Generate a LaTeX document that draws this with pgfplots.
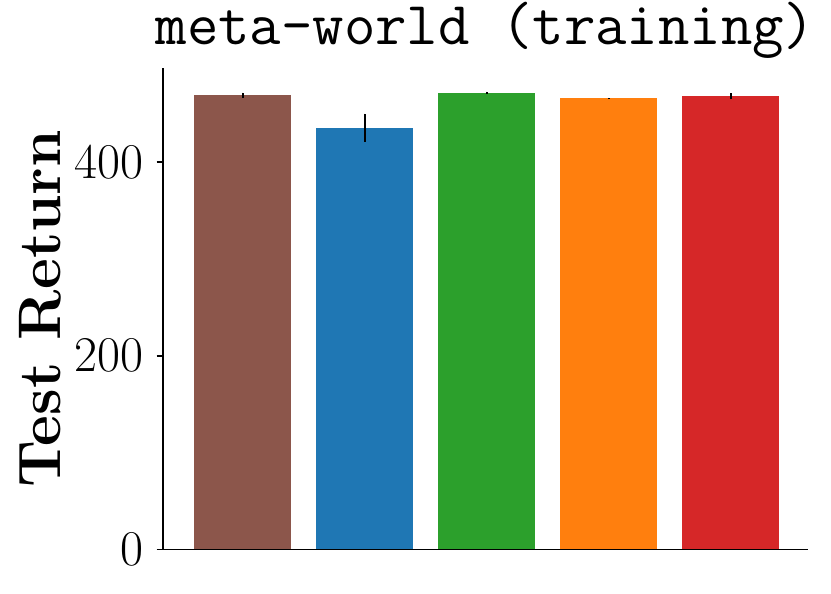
\documentclass[border=0pt]{standalone}
\usepackage{fontspec}
\usepackage{pgfplots}
\pgfplotsset{compat=1.18}

\definecolor{tabbrown}{HTML}{8C564B}
\definecolor{tabblue}{HTML}{1F77B4}
\definecolor{tabgreen}{HTML}{2CA02C}
\definecolor{taborange}{HTML}{FF7F0E}
\definecolor{tabred}{HTML}{D62728}

\begin{document}
\begin{tikzpicture}
\begin{axis}[
    name=ax,
    scale only axis,
    width=322.5pt,
    height=240.75pt,
    ybar,
    bar width=0.8,
    xmin=-0.652, xmax=4.635,
    ymin=0, ymax=497,
    ytick={0,200,400},
    xtick=\empty,
    axis x line*=bottom,
    axis y line*=left,
    axis line style={line width=0.9pt, -},
    tick align=outside,
    major tick length=3.2pt,
    tick style={line width=0.9pt, black},
    /pgf/number format/assume math mode=true,
    ticklabel style={font=\fontsize{25}{30}\selectfont},
    yticklabel style={inner sep=0pt, anchor=east, xshift=-6.5pt},
    title={meta-world (training)},
    title style={at={(axis description cs:0.5,1)}, anchor=base, yshift=5.5pt,
        font=\fontsize{30.5}{36}\selectfont\ttfamily, inner sep=0pt},
    ylabel={Test Return},
    ylabel style={at={(axis description cs:-0.157,0.5)}, anchor=south, inner sep=0pt,
        font=\fontsize{30}{35}\selectfont\bfseries},
    error bars/y dir=both,
    error bars/y explicit,
    error bars/error mark=none,
    error bars/error bar style={line width=1pt, black},
]
\addplot[fill=tabbrown, draw=none, bar shift=0pt] coordinates {(0,469.1) +- (0,2.6)};
\addplot[fill=tabblue, draw=none, bar shift=0pt] coordinates {(1,435.5) +- (0,14.4)};
\addplot[fill=tabgreen, draw=none, bar shift=0pt] coordinates {(2,471.6) +- (0,1.0)};
\addplot[fill=taborange, draw=none, bar shift=0pt] coordinates {(3,465.7) +- (0,0.5)};
\addplot[fill=tabred, draw=none, bar shift=0pt] coordinates {(4,467.7) +- (0,3.1)};
\end{axis}
% page margins as in the reference
\path (ax.south west) ++(-81.5pt,-22.25pt);
\path (ax.north east) ++(11.5pt,34pt);
\end{tikzpicture}
\end{document}
